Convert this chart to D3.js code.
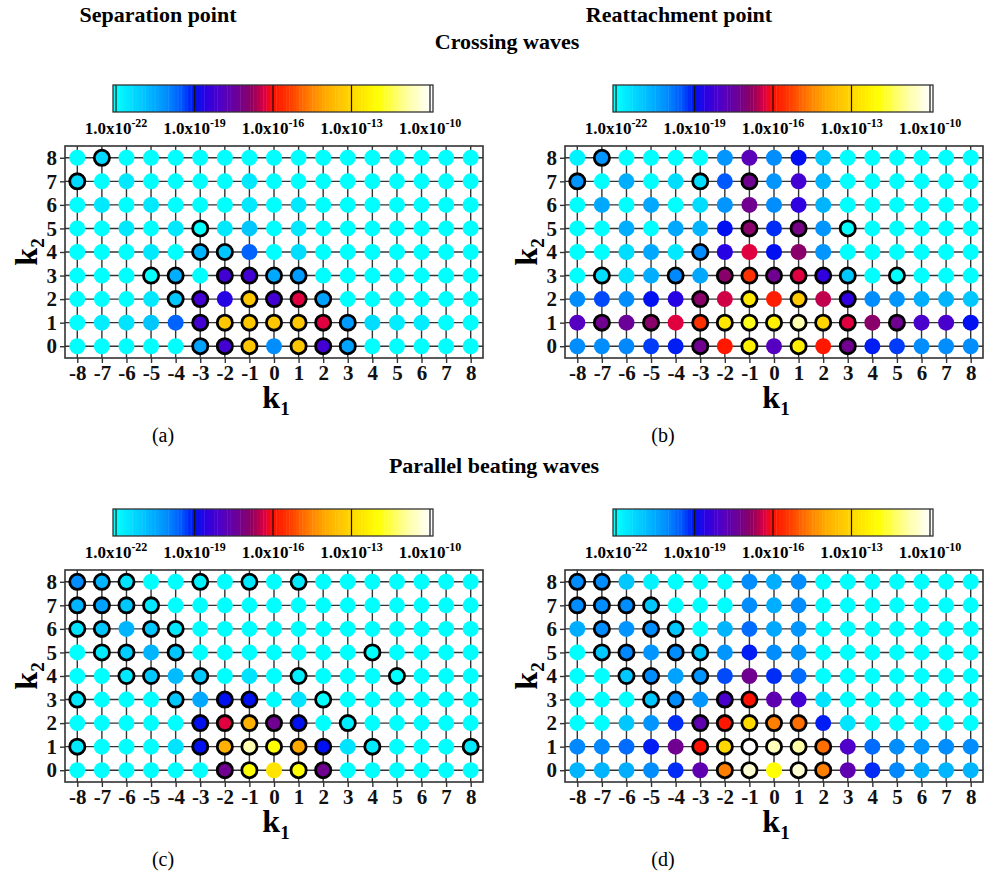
<!DOCTYPE html>
<html>
<head>
<meta charset="utf-8">
<script src="https://cdn.jsdelivr.net/npm/d3@7"></script>
<style>
  body { margin: 0; background: #fff; }
  text { font-family: "Liberation Serif", "Times New Roman", serif; }
</style>
</head>
<body>
<div id="chart"></div>
<script>
const width = 987;
const height = 875;

const k1Values = d3.range(-8, 9);
const k2Rows = [8, 7, 6, 5, 4, 3, 2, 1, 0];
const cbTicks = [-22, -19, -16, -13, -10];

// log10 of the amplitude, rows k2 = 8 .. 0, columns k1 = -8 .. 8
const sepCross = [
  [-22, -21.3, -22, -22, -22, -22, -22, -22, -22, -22, -22, -22, -22, -22, -22, -22, -22],
  [-21.3, -22, -21.6, -22, -22, -22, -22, -21.6, -22, -22, -22, -22, -22, -22, -22, -22, -22],
  [-22, -21.6, -22, -21.6, -22, -22, -22, -21.6, -22, -21.6, -22, -22, -22, -22, -22, -22, -22],
  [-22, -22, -21.6, -22, -21.6, -22, -21.6, -21, -22, -21.6, -22, -22, -22, -22, -22, -22, -22],
  [-22, -22, -22, -21.6, -22, -20.7, -21, -19.6, -22, -21.4, -22, -22, -22, -22, -22, -22, -22],
  [-22, -22, -22, -22, -20.6, -22, -18.2, -18.2, -20.5, -20.3, -22, -22, -22, -22, -22, -22, -22],
  [-22, -22, -22, -21.6, -21, -18.2, -18.6, -13.4, -18.2, -16.3, -20.4, -22, -22, -22, -22, -22, -22],
  [-22, -21.7, -21.5, -21, -19.6, -18.2, -13.4, -13.4, -13.4, -13.4, -16.3, -20.3, -21.4, -21.7, -21.7, -22, -22],
  [-22, -22, -22, -22, -22, -20.4, -18.2, -13.4, -20.1, -13.4, -18.2, -20.4, -22, -22, -22, -22, -22]
];
const reatCross = [
  [-21.8, -20.2, -22, -22, -22, -22, -20.2, -17.8, -20.1, -19, -21, -22, -22, -22, -22, -22, -22],
  [-20.2, -22, -20.6, -22, -21.4, -21.4, -19.5, -17.3, -20.2, -18.2, -20.7, -22, -22, -22, -22, -22, -22],
  [-22, -20.5, -22, -20.5, -22, -21.4, -20.2, -17.3, -20.1, -18.5, -20.7, -22, -22, -22, -22, -22, -22],
  [-22, -22, -20.6, -22, -20.5, -20.7, -19, -16.9, -19.2, -17.2, -20.2, -22, -22, -22, -22, -22, -22],
  [-22, -22, -21.4, -20.5, -21.6, -20.1, -18.6, -16.3, -19, -16.9, -20.2, -22, -22, -22, -22, -22, -22],
  [-22, -21.4, -21.5, -20.6, -20, -20.5, -16.9, -15.5, -17.3, -16.3, -18.5, -21, -22, -22, -22, -22, -22],
  [-20.1, -19.4, -20.1, -19, -18.6, -16.9, -16.4, -12.6, -15.8, -13.3, -16.5, -18.5, -20.1, -20.2, -20.6, -20.7, -21],
  [-17.9, -17.3, -17.4, -16.9, -16.3, -15.5, -12.6, -11.8, -12.4, -10.7, -13.1, -16.3, -16.9, -17.3, -18.1, -18.1, -19],
  [-20.1, -20.1, -20, -19.3, -19.1, -17.3, -15.9, -12.4, -17.9, -12.4, -15.9, -17.3, -19.1, -19.3, -20.1, -20.1, -20.1]
];
const sepParallel = [
  [-20.1, -20.7, -21.5, -22, -22, -21.8, -22, -21.6, -22, -21.6, -22, -22, -22, -22, -22, -22, -22],
  [-20.7, -20.4, -21, -21.6, -22, -22, -22, -22, -22, -22, -22, -22, -22, -22, -22, -22, -22],
  [-21.5, -21, -20.7, -21, -21.6, -22, -22, -22, -22, -22, -22, -22, -22, -22, -22, -22, -22],
  [-22, -21.6, -21.1, -20.7, -21, -22, -22, -22, -22, -22, -22, -22, -22, -22, -22, -22, -22],
  [-22, -22, -21.6, -21, -20.8, -21, -22, -21.5, -22, -21.7, -22, -22, -22, -22, -22, -22, -22],
  [-21.6, -22, -22, -22, -21, -20.5, -19, -19, -22, -21.5, -22, -22, -22, -22, -22, -22, -22],
  [-22, -22, -22, -22, -22, -19, -16.3, -13.9, -17.3, -19, -22, -21.7, -22, -22, -22, -22, -22],
  [-21.6, -22, -22, -22, -21.5, -19, -13.9, -10.7, -12, -14, -19, -21.5, -21.6, -22, -22, -22, -21.6],
  [-22, -22, -22, -22, -22, -22, -17.3, -12, -12.7, -12, -17.3, -22, -22, -22, -22, -22, -22]
];
const reatParallel = [
  [-20.1, -20.1, -21, -21.8, -22, -22, -22, -20.1, -20.6, -20.1, -22, -22, -22, -22, -22, -22, -22],
  [-20.1, -20.1, -20.1, -21, -22, -22, -22, -20.1, -20.6, -20.1, -22, -22, -22, -22, -22, -22, -22],
  [-20.6, -20.1, -20.2, -20.1, -21, -22, -20.7, -19.7, -20.5, -20.2, -22, -22, -22, -22, -22, -22, -22],
  [-22, -21, -20, -20.2, -20.1, -21, -20.2, -19.1, -20.1, -20.2, -22, -22, -22, -22, -22, -22, -22],
  [-22, -22, -21, -20.1, -20.4, -20.2, -19.4, -17.3, -19.2, -19.7, -22, -22, -22, -22, -22, -22, -22],
  [-22, -22, -22, -21, -20.1, -20.2, -18.1, -16, -17.7, -18.2, -21.5, -22, -22, -22, -22, -22, -22],
  [-22, -22, -21, -20.2, -19.2, -17.7, -15.9, -13, -14.6, -14.8, -19.1, -21.5, -22, -22, -22, -22, -22],
  [-20, -20, -19.7, -19.1, -17.3, -16, -13, -10, -10.6, -10.8, -14.8, -18, -19.7, -20.1, -20.2, -20.1, -20.1],
  [-20.7, -20.7, -20.6, -20.1, -19.2, -17.7, -14.6, -10.4, -12, -10.4, -14.6, -17.7, -19.2, -20, -20.6, -20.7, -20.7]
];

// circled modes [k1, k2]
const sepCrossRing = [[-7, 8], [-8, 7], [-3, 5], [-3, 4], [-2, 4],
  [-5, 3], [-4, 3], [-2, 3], [-1, 3], [0, 3], [1, 3],
  [-4, 2], [-3, 2], [-1, 2], [0, 2], [1, 2], [2, 2],
  [-3, 1], [-2, 1], [-1, 1], [0, 1], [1, 1], [2, 1], [3, 1],
  [-3, 0], [-2, 0], [-1, 0], [1, 0], [2, 0], [3, 0]];
const reatCrossRing = [[-7, 8], [-8, 7], [-3, 7], [-1, 7], [-1, 5], [1, 5], [3, 5], [-3, 4],
  [-7, 3], [-4, 3], [-2, 3], [-1, 3], [0, 3], [1, 3], [2, 3], [3, 3], [5, 3],
  [-3, 2], [-1, 2], [1, 2], [3, 2],
  [-7, 1], [-5, 1], [-3, 1], [-2, 1], [-1, 1], [0, 1], [1, 1], [2, 1], [3, 1], [5, 1],
  [-3, 0], [-1, 0], [1, 0], [3, 0]];
const sepParallelRing = [[-8, 8], [-7, 8], [-6, 8], [-3, 8], [-1, 8], [1, 8],
  [-8, 7], [-7, 7], [-6, 7], [-5, 7],
  [-8, 6], [-7, 6], [-5, 6], [-4, 6],
  [-7, 5], [-6, 5], [-4, 5], [4, 5],
  [-6, 4], [-5, 4], [-3, 4], [1, 4], [5, 4],
  [-8, 3], [-4, 3], [-2, 3], [-1, 3], [2, 3],
  [-3, 2], [-2, 2], [-1, 2], [0, 2], [1, 2], [3, 2],
  [-8, 1], [-3, 1], [-2, 1], [-1, 1], [0, 1], [1, 1], [2, 1], [4, 1], [8, 1],
  [-2, 0], [-1, 0], [1, 0], [2, 0]];
const reatParallelRing = [[-8, 8], [-7, 8],
  [-8, 7], [-7, 7], [-6, 7], [-5, 7],
  [-7, 6], [-5, 6], [-4, 6],
  [-7, 5], [-6, 5], [-4, 5], [-3, 5],
  [-6, 4], [-5, 4], [-3, 4],
  [-5, 3], [-4, 3], [-2, 3], [-1, 3],
  [-3, 2], [-2, 2], [-1, 2], [0, 2], [1, 2],
  [-3, 1], [-2, 1], [-1, 1], [0, 1], [1, 1], [2, 1],
  [-2, 0], [-1, 0], [1, 0], [2, 0]];

const color = d3.scaleLinear()
    .domain([-22, -21, -20, -19.5, -19, -18.5, -18, -17.3, -16.8, -16.3, -16, -15.4, -14.6, -13.9, -13.2, -12.6, -12, -11, -10])
    .range(["#00ffff", "#00c8ff", "#0088ff", "#0058ff", "#0010f0", "#3000e0", "#5000c8", "#700090", "#900060",
            "#e00040", "#ff1000", "#ff3800", "#ff8000", "#ffb000", "#ffd000", "#ffe800", "#ffff00", "#ffff90", "#ffffff"])
    .clamp(true);

const serif = "'Liberation Serif', 'Times New Roman', serif";

const svg = d3.select("#chart")
    .append("svg")
    .attr("width", width)
    .attr("height", height)
    .attr("font-family", serif);

const pw = 418, ph = 212;

const panels = [
    { data: sepCross, ring: sepCrossRing, x: 65, y: 146, tag: "(a)" },
    { data: reatCross, ring: reatCrossRing, x: 565, y: 146, tag: "(b)" },
    { data: sepParallel, ring: sepParallelRing, x: 65, y: 570, tag: "(c)" },
    { data: reatParallel, ring: reatParallelRing, x: 565, y: 570, tag: "(d)" }
];

function drawColorbar(g) {
    const cb = d3.scaleLinear().domain([-22, -10]).range([51, 365]);
    const top = -61, h = 27;
    const bands = d3.range(-22, -10, 0.125);
    g.selectAll(".band")
        .data(bands)
        .enter()
        .append("rect")
        .attr("x", d => cb(d))
        .attr("y", top)
        .attr("width", cb(-22 + 0.125) - cb(-22) + 0.4)
        .attr("height", h)
        .attr("fill", d => color(d + 0.0625));
    g.append("rect").attr("x", 48).attr("y", top).attr("width", 3).attr("height", h).attr("fill", color(-22));
    g.append("rect").attr("x", 365).attr("y", top).attr("width", 3).attr("height", h).attr("fill", color(-10));
    g.selectAll(".cbline")
        .data(cbTicks)
        .enter()
        .append("line")
        .attr("x1", d => cb(d)).attr("x2", d => cb(d))
        .attr("y1", top).attr("y2", top + h)
        .attr("stroke", "#111")
        .attr("stroke-width", 1.2);
    g.append("rect")
        .attr("x", 48).attr("y", top)
        .attr("width", 320).attr("height", h)
        .attr("fill", "none")
        .attr("stroke", "#333")
        .attr("stroke-width", 1.3);

    const lab = g.selectAll(".cblab")
        .data(cbTicks)
        .enter()
        .append("text")
        .attr("x", d => cb(d))
        .attr("y", -12)
        .attr("text-anchor", "middle")
        .style("font-weight", "bold")
        .style("font-size", "17px");
    lab.append("tspan").text("1.0x10");
    lab.append("tspan")
        .attr("dy", -7)
        .style("font-size", "12px")
        .text(d => "-" + Math.abs(d));
}

function drawPanel(p) {
    const g = svg.append("g").attr("transform", `translate(${p.x},${p.y})`);
    const x = d3.scaleLinear().domain([-8.5, 8.5]).range([0, pw]);
    const y = d3.scaleLinear().domain([-0.5, 8.5]).range([ph, 0]);

    // grid lines
    g.selectAll(".vgrid")
        .data(k1Values)
        .enter()
        .append("line")
        .attr("x1", d => x(d)).attr("x2", d => x(d))
        .attr("y1", 0).attr("y2", ph)
        .attr("stroke", "#333").attr("stroke-width", 1.4);
    g.selectAll(".hgrid")
        .data(k2Rows)
        .enter()
        .append("line")
        .attr("x1", 0).attr("x2", pw)
        .attr("y1", d => y(d)).attr("y2", d => y(d))
        .attr("stroke", "#333").attr("stroke-width", 1.4);

    // axes
    const xAxis = g.append("g")
        .attr("transform", `translate(0,${ph})`)
        .call(d3.axisBottom(x).tickValues(k1Values).tickSize(5).tickPadding(2).tickFormat(d => d));
    const yAxis = g.append("g")
        .call(d3.axisLeft(y).tickValues(k2Rows).tickSize(5).tickPadding(3));
    [xAxis, yAxis].forEach(a => {
        a.attr("font-family", serif).attr("font-size", 21).attr("font-weight", "bold");
        a.select(".domain").remove();
        a.selectAll("line").attr("stroke", "#333").attr("stroke-width", 1.4);
        a.selectAll("text").attr("fill", "#111");
    });

    g.append("rect")
        .attr("width", pw).attr("height", ph)
        .attr("fill", "none")
        .attr("stroke", "#333")
        .attr("stroke-width", 1.6);

    // cells
    const ringSet = new Set(p.ring.map(d => d.join(",")));
    const cells = p.data.flatMap((row, i) => row.map((v, j) => ({ k1: k1Values[j], k2: k2Rows[i], v: v })));
    g.selectAll(".cell")
        .data(cells)
        .enter()
        .append("circle")
        .attr("cx", d => x(d.k1))
        .attr("cy", d => y(d.k2))
        .attr("r", d => ringSet.has(d.k1 + "," + d.k2) ? 7.6 : 8)
        .attr("fill", d => color(d.v))
        .attr("stroke", d => ringSet.has(d.k1 + "," + d.k2) ? "#000" : "none")
        .attr("stroke-width", 2.8);

    // axis labels
    const kx = g.append("text")
        .attr("x", pw / 2 + 2)
        .attr("y", ph + 50)
        .attr("text-anchor", "middle")
        .style("font-weight", "bold")
        .style("font-size", "32px");
    kx.append("tspan").text("k");
    kx.append("tspan").attr("dy", 7).style("font-size", "19px").text("1");

    const ky = g.append("text")
        .attr("transform", `translate(-28,${ph / 2}) rotate(-90)`)
        .attr("text-anchor", "middle")
        .style("font-weight", "bold")
        .style("font-size", "32px");
    ky.append("tspan").text("k");
    ky.append("tspan").attr("dy", 7).style("font-size", "19px").text("2");

    g.append("text")
        .attr("x", 98)
        .attr("y", ph + 84)
        .attr("text-anchor", "middle")
        .style("font-size", "20px")
        .text(p.tag);

    drawColorbar(g);
}

panels.forEach(drawPanel);

// titles
const titles = [
    { text: "Separation point", x: 158, y: 22 },
    { text: "Reattachment point", x: 679, y: 22 },
    { text: "Crossing waves", x: 507, y: 49 },
    { text: "Parallel beating waves", x: 494, y: 473 }
];
svg.selectAll(".title")
    .data(titles)
    .enter()
    .append("text")
    .attr("x", d => d.x)
    .attr("y", d => d.y)
    .attr("text-anchor", "middle")
    .style("font-weight", "bold")
    .style("font-size", "22px")
    .text(d => d.text);
</script>
</body>
</html>
